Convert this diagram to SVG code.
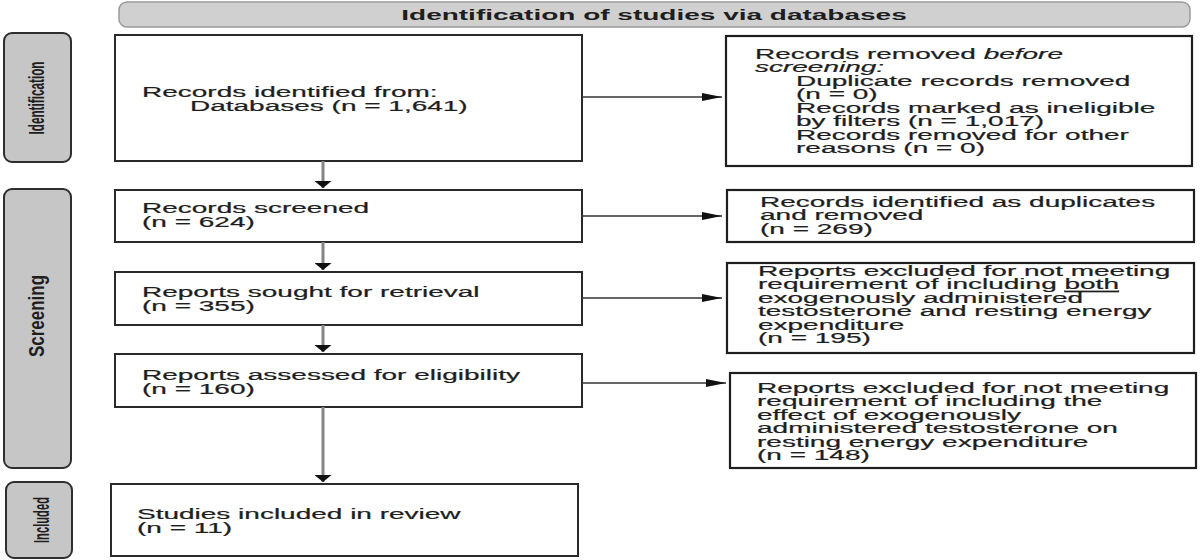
<svg xmlns="http://www.w3.org/2000/svg" width="1200" height="560" viewBox="0 0 1200 560">
<style>
.bg{fill:#ffffff}
.box{fill:#ffffff;stroke:#2a2a2a;stroke-width:2}
.rbox{fill:#ffffff;stroke:#1e1e1e;stroke-width:2.2}
.lab{fill:#c6c6c6;stroke:#2e2e2e;stroke-width:2}
.hdr{fill:#d0d0d0;stroke:#9a9a9a;stroke-width:1.5}
.t{font-family:"Liberation Sans",Arial,sans-serif;font-size:14px;fill:#1e1e1e;stroke:#1e1e1e;stroke-width:0.2}
.hb{font-family:"Liberation Sans",Arial,sans-serif;font-size:14px;font-weight:bold;fill:#1e1e1e}
.lt{font-family:"Liberation Sans",Arial,sans-serif;font-size:22px;font-weight:bold;fill:#1e1e1e}
.h{stroke:#333333;stroke-width:1.3;fill:none}
.v{stroke:#858585;stroke-width:3;fill:none}
</style>
<defs>
<marker id="ah" markerUnits="userSpaceOnUse" markerWidth="20" markerHeight="8" viewBox="0 0 20 8" refX="20" refY="4" orient="auto">
<path d="M0,0 L20,4 L0,8 z" fill="#111"/>
</marker>
<marker id="av" markerUnits="userSpaceOnUse" markerWidth="7" markerHeight="17" viewBox="0 0 7 17" refX="7" refY="8.5" orient="auto">
<path d="M0,0 L7,8.5 L0,17 z" fill="#111"/>
</marker>
</defs>
<rect class="bg" x="0" y="0" width="1200" height="560"/>

<g id="header">
<rect class="hdr" x="119" y="2" width="1071" height="25" rx="8" ry="8"/>
<text class="hb" text-anchor="middle" transform="matrix(2 0 0 1 654 20)" x="0" y="0">Identification of studies via databases</text>
</g>

<g id="label-identification">
<rect class="lab" x="4" y="33" width="67" height="129" rx="8" ry="8"/>
<text class="lt" text-anchor="middle" transform="translate(44 98) rotate(-90)" x="0" y="0" textLength="73" lengthAdjust="spacingAndGlyphs">Identification</text>
</g>
<g id="label-screening">
<rect class="lab" x="4" y="189" width="67" height="279" rx="8" ry="8"/>
<text class="lt" text-anchor="middle" transform="translate(44 316) rotate(-90)" x="0" y="0" textLength="82" lengthAdjust="spacingAndGlyphs" font-size="24">Screening</text>
</g>
<g id="label-included">
<rect class="lab" x="6" y="482" width="66" height="76" rx="8" ry="8"/>
<text class="lt" text-anchor="middle" transform="translate(49 520) rotate(-90)" x="0" y="0" textLength="46" lengthAdjust="spacingAndGlyphs">Included</text>
</g>

<g id="box-identified">
<rect class="box" x="115" y="35" width="467" height="126"/>
<text class="t" transform="matrix(2 0 0 1 142 97)"><tspan x="0" y="0">Records identified from:</tspan><tspan x="24" dy="14">Databases (n = 1,641)</tspan></text>
</g>
<g id="box-removed-before">
<rect class="rbox" x="726" y="36" width="466" height="130"/>
<text class="t" transform="matrix(2 0 0 1 755 59)"><tspan x="0" y="0">Records removed <tspan font-style="italic">before</tspan></tspan><tspan x="0" dy="13.5" font-style="italic">screening:</tspan><tspan x="20.5" dy="13.5">Duplicate records removed</tspan><tspan x="20.5" dy="13.5">(n = 0)</tspan><tspan x="20.5" dy="13.5">Records marked as ineligible</tspan><tspan x="20.5" dy="13.5">by filters (n = 1,017)</tspan><tspan x="20.5" dy="13.5">Records removed for other</tspan><tspan x="20.5" dy="13.5">reasons (n = 0)</tspan></text>
</g>
<g id="box-screened">
<rect class="box" x="115" y="190" width="467" height="52"/>
<text class="t" transform="matrix(2 0 0 1 142 213)"><tspan x="0" y="0">Records screened</tspan><tspan x="0" dy="14">(n = 624)</tspan></text>
</g>
<g id="box-duplicates">
<rect class="rbox" x="727" y="190" width="467" height="52"/>
<text class="t" transform="matrix(2 0 0 1 760 207)"><tspan x="0" y="0">Records identified as duplicates</tspan><tspan x="0" dy="13.5">and removed</tspan><tspan x="0" dy="13.5">(n = 269)</tspan></text>
</g>
<g id="box-sought">
<rect class="box" x="115" y="272" width="467" height="53"/>
<text class="t" transform="matrix(2 0 0 1 142 297)"><tspan x="0" y="0">Reports sought for retrieval</tspan><tspan x="0" dy="14">(n = 355)</tspan></text>
</g>
<g id="box-excluded-1">
<rect class="rbox" x="727" y="263" width="467" height="90"/>
<text class="t" transform="matrix(2 0 0 1 758 276)"><tspan x="0" y="0">Reports excluded for not meeting</tspan><tspan x="0" dy="13.5">requirement of including <tspan style="text-decoration:underline">both</tspan></tspan><tspan x="0" dy="13.5">exogenously administered</tspan><tspan x="0" dy="13.5">testosterone and resting energy</tspan><tspan x="0" dy="13.5">expenditure</tspan><tspan x="0" dy="13.5">(n = 195)</tspan></text>
</g>
<g id="box-assessed">
<rect class="box" x="115" y="354" width="467" height="53"/>
<text class="t" transform="matrix(2 0 0 1 142 380)"><tspan x="0" y="0">Reports assessed for eligibility</tspan><tspan x="0" dy="14">(n = 160)</tspan></text>
</g>
<g id="box-excluded-2">
<rect class="rbox" x="730" y="373" width="466" height="95"/>
<text class="t" transform="matrix(2 0 0 1 757 393)"><tspan x="0" y="0">Reports excluded for not meeting</tspan><tspan x="0" dy="13.5">requirement of including the</tspan><tspan x="0" dy="13.5">effect of exogenously</tspan><tspan x="0" dy="13.5">administered testosterone on</tspan><tspan x="0" dy="13.5">resting energy expenditure</tspan><tspan x="0" dy="13.5">(n = 148)</tspan></text>
</g>
<g id="box-included">
<rect class="box" x="111" y="484" width="467" height="72"/>
<text class="t" transform="matrix(2 0 0 1 137 519)"><tspan x="0" y="0">Studies included in review</tspan><tspan x="0" dy="14">(n = 11)</tspan></text>
</g>

<g id="connectors">
<line class="h" x1="582" y1="97" x2="722" y2="97" marker-end="url(#ah)"/>
<line class="h" x1="582" y1="216" x2="722" y2="216" marker-end="url(#ah)"/>
<line class="h" x1="582" y1="298" x2="722" y2="298" marker-end="url(#ah)"/>
<line class="h" x1="582" y1="383" x2="726" y2="383" marker-end="url(#ah)"/>
<line class="v" x1="323" y1="161" x2="323" y2="188" marker-end="url(#av)"/>
<line class="v" x1="323" y1="242" x2="323" y2="270" marker-end="url(#av)"/>
<line class="v" x1="323" y1="325" x2="323" y2="352" marker-end="url(#av)"/>
<line class="v" x1="323" y1="407" x2="323" y2="482" marker-end="url(#av)"/>
</g>
</svg>
